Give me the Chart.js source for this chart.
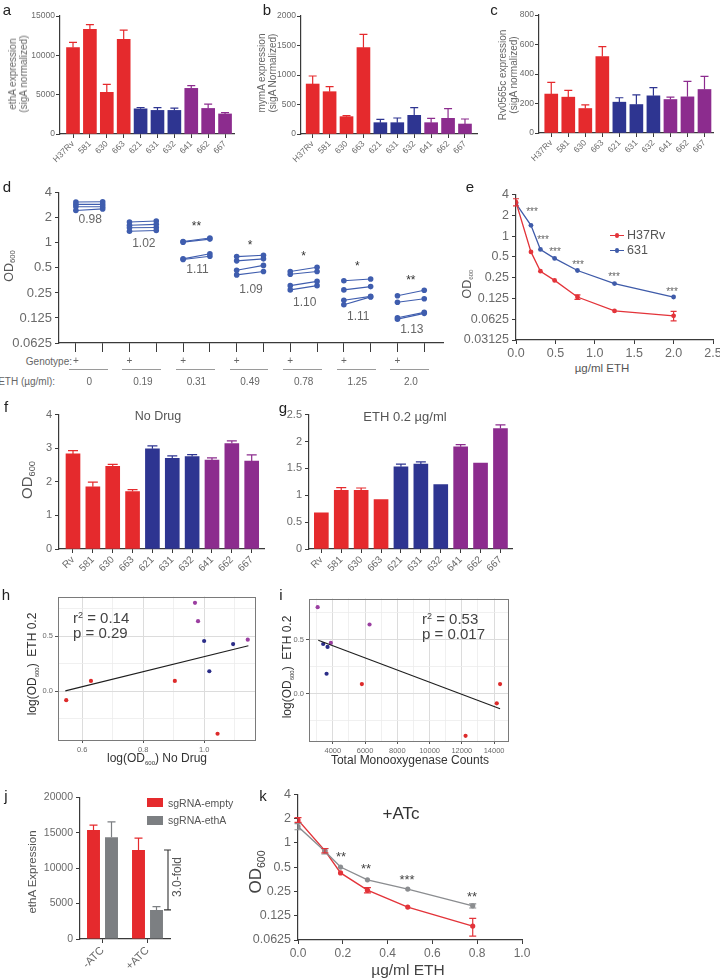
<!DOCTYPE html>
<html><head><meta charset="utf-8"><title>Figure</title>
<script src="https://cdn.jsdelivr.net/npm/chart.js"></script>
<style>
html,body{margin:0;padding:0;background:#fff;overflow:hidden;}
#root{position:relative;width:720px;height:980px;overflow:hidden;font-family:"Liberation Sans",Arial,Helvetica,sans-serif;}
#root canvas{position:absolute;}
.t{position:absolute;white-space:nowrap;color:#555;line-height:1;}
.sub{font-size:0.62em;vertical-align:-0.35em;}
.sup{font-size:0.6em;vertical-align:0.55em;}
.box{position:absolute;}
</style></head>
<body><div id="root"></div>
<script>
/* ================= DATA ================= */
const strains = ['H37Rv','581','630','663','621','631','632','641','662','667'];
const strainsShort = ['Rv','581','630','663','621','631','632','641','662','667'];
const strainGroup = ['red','red','red','red','blue','blue','blue','purple','purple','purple'];

// a: ethA expression (sigA normalized)
const ethA    = [11000,13300,5300,12050,3200,3000,3000,5800,3250,2550];
const ethAErr = [650,600,1000,1150,170,350,300,340,550,170];
// b: mymA expression
const mymA    = [847,717,294,1463,192,192,316,192,266,169];
const mymAErr = [136,85,17,226,57,79,130,74,163,85];
// c: Rv0565c expression
const rv0565c    = [264,243,166,518,209,193,252,227,245,295];
const rv0565cErr = [79,46,25,68,30,66,55,16,105,89];

// d: paired OD600 (genotype + : left / right of each pair)
const dConc  = ['0','0.19','0.31','0.49','0.78','1.25','2.0'];
const dLeft  = [[3.1,2.9,2.72,2.45],[1.78,1.63,1.52,1.38],[1.04,1.02,0.642,0.63],[0.684,0.608,0.468,0.412],[0.452,0.42,0.306,0.272],[0.35,0.272,0.204,0.18],[0.231,0.193,0.126,0.121]];
const dRight = [[3.12,2.9,2.72,2.56],[1.83,1.67,1.53,1.41],[1.145,1.11,0.74,0.69],[0.71,0.642,0.536,0.452],[0.508,0.452,0.344,0.306],[0.367,0.298,0.227,0.224],[0.269,0.213,0.146,0.142]];
const dRatio = ['0.98','1.02','1.11','1.09','1.10','1.11','1.13'];
const dStars = ['','','**','*','*','*','**'];
const dLogTicks = [4,2,1,0.5,0.25,0.125,0.0625];

// e: dose response
const eConc      = [0,0.19,0.31,0.49,0.78,1.25,2.0];
const eH37Rv     = [3.1,0.59,0.31,0.228,0.131,0.0825,0.070];
const eH37RvErr  = [0.37,0,0,0,0.0095,0,0.011];
const e631       = [2.95,1.43,0.64,0.475,0.317,0.205,0.131];
const eStars     = ['***','***','***','***','***','***'];
const eLogTicks  = [4,2,1,0.5,0.25,0.125,0.0625,0.03125];

// f / g: OD600 no drug and ETH 0.2 ug/ml
const noDrug    = [2.83,1.85,2.46,1.71,2.98,2.70,2.75,2.65,3.14,2.62];
const noDrugErr = [0.10,0.14,0.06,0.06,0.09,0.07,0.06,0.06,0.08,0.18];
const eth02     = [0.675,1.09,1.09,0.92,1.53,1.58,1.20,1.90,1.60,2.24];
const eth02Err  = [0,0.05,0.045,0,0.05,0.04,0,0.04,0,0.07];

// h: log(OD600) No Drug vs log(OD600) ETH 0.2
const hGroup = ['red','red','red','red','blue','blue','blue','purple','purple','purple'];
const hNoDrug = [1.044,0.629,0.904,0.548,1.095,1.0,1.017,0.98,1.143,0.97];
const hEth    = [-0.388,0.094,0.094,-0.082,0.43,0.458,0.182,0.639,0.47,0.806];
const hFitX = [0.545,1.145];
const hFitY = [0.003,0.415];
const hStats = ['0.14','0.29'];

// i: total monooxygenase counts vs log(OD600) ETH 0.2
const iCounts = [12230,14370,5800,14165,3674,3403,3612,6277,3877,3059];
const iEth    = [-0.388,0.09,0.09,-0.088,0.433,0.46,0.185,0.64,0.47,0.80];
const iFitX = [3098,14370];
const iFitY = [0.494,-0.139];
const iStats = ['0.53','0.017'];

// j: ethA expression, CRISPRi
const jConditions = ['-ATC','+ATC'];
const jSeries = ['sgRNA-empty','sgRNA-ethA'];
const jEmpty    = [15370,12570];
const jEmptyErr = [700,1680];
const jEthA     = [14350,4110];
const jEthAErr  = [2190,470];
const jFold = '3.0-fold';

// k: +ATc dose response
const kConc     = [0,0.12,0.19,0.31,0.49,0.78];
const kEmpty    = [1.93,0.805,0.425,0.26,0.16,0.093];
const kEmptyErr = [0.13,0.05,0,0.02,0,0.023];
const kEthA     = [1.6,0.79,0.503,0.349,0.268,0.166];
const kEthAErr  = [0.14,0.06,0,0,0,0.01];
const kStars    = ['','','**','**','***','**'];
const kLogTicks = [4,2,1,0.5,0.25,0.125,0.0625];

/* ================= STYLE ================= */
const COL = {red:'#E52A2D', blue:'#2E3591', purple:'#8C2C8E'};
const SCOL = {red:'#DD2B2B', blue:'#2B2D88', purple:'#9B3FA1'};
const C_D = '#3F5DAE', C_ERED = '#E3343A', C_EBLUE = '#3F5BA9', C_KGREY = '#8B8D90', C_JGREY = '#7C7F82';
const AX = '#3a3a3a', TC = '#6a6a6a';
Chart.defaults.font.family = '"Liberation Sans", Arial, Helvetica, sans-serif';
Chart.defaults.color = TC;

const root = document.getElementById('root');

const errPlugin = {
  id: 'errbars',
  afterDatasetsDraw(chart) {
    const ctx = chart.ctx;
    chart.data.datasets.forEach((ds, di) => {
      if (!ds.errUp) return;
      const meta = chart.getDatasetMeta(di);
      const ys = chart.scales[meta.yAxisID];
      meta.data.forEach((el, i) => {
        const e = ds.errUp[i];
        if (!e) return;
        const raw = ds.data[i];
        const v = (raw && typeof raw === 'object') ? raw.y : raw;
        const x = el.x;
        const top = ys.getPixelForValue(v + e);
        const bot = ds.errBoth ? ys.getPixelForValue(v - e) : el.y;
        const cw = ds.capW || 4;
        ctx.save();
        ctx.strokeStyle = Array.isArray(ds.errColor) ? ds.errColor[i] : (ds.errColor || ds.borderColor);
        ctx.lineWidth = 1.2;
        ctx.beginPath();
        ctx.moveTo(x, bot); ctx.lineTo(x, top);
        ctx.moveTo(x - cw, top); ctx.lineTo(x + cw, top);
        if (ds.errBoth) { ctx.moveTo(x - cw, bot); ctx.lineTo(x + cw, bot); }
        ctx.stroke();
        ctx.restore();
      });
    });
  }
};
Chart.register(errPlugin);

const framePlugin = {
  id: 'frame',
  afterDatasetsDraw(chart) {
    const a = chart.chartArea, ctx = chart.ctx;
    ctx.save(); ctx.strokeStyle = '#7a7a7a'; ctx.lineWidth = 1;
    ctx.strokeRect(Math.round(a.left) + 0.5, Math.round(a.top) + 0.5, Math.round(a.right - a.left) - 1, Math.round(a.bottom - a.top) - 1);
    ctx.restore();
  }
};

function base(scales) {
  return { responsive: false, animation: false, events: [],
    plugins: { legend: { display: false }, tooltip: { enabled: false } }, scales };
}

function mk(area, pad, config) {
  const c = document.createElement('canvas');
  const x0 = area.l - pad.l, y0 = area.t - pad.t;
  const w = area.r - area.l + pad.l + pad.r, h = area.b - area.t + pad.t + pad.b;
  c.width = w; c.height = h;
  c.style.left = x0 + 'px'; c.style.top = y0 + 'px';
  c.style.width = w + 'px'; c.style.height = h + 'px';
  root.appendChild(c);
  config.options.layout = { padding: { left: 0, top: pad.t, right: pad.r, bottom: 0 } };
  config.options.scales.x.afterFit = s => { s.height = pad.b; };
  config.options.scales.y.afterFit = s => { s.width = pad.l; };
  const ch = new Chart(c, config);
  ch.x0 = x0; ch.y0 = y0;
  return ch;
}

function txt(html, x, y, o = {}) {
  const d = document.createElement('div');
  d.className = 't';
  d.innerHTML = html;
  d.style.left = x + 'px'; d.style.top = y + 'px';
  d.style.fontSize = (o.size || 10) + 'px';
  if (o.color) d.style.color = o.color;
  if (o.lh) { d.style.lineHeight = o.lh + 'px'; d.style.textAlign = 'center'; }
  const tx = o.align === 'left' ? '0' : (o.align === 'right' ? '-100%' : '-50%');
  d.style.transform = 'translate(' + tx + ',-50%)' + (o.rot ? ' rotate(' + o.rot + 'deg)' : '');
  root.appendChild(d);
  return d;
}
function rect(x, y, w, h, color, radius) {
  const d = document.createElement('div');
  d.className = 'box';
  d.style.left = x + 'px'; d.style.top = y + 'px';
  d.style.width = w + 'px'; d.style.height = h + 'px';
  d.style.background = color;
  if (radius) d.style.borderRadius = radius;
  root.appendChild(d);
}

function yLin(min, max, step, font, tpad) {
  return { type: 'linear', min, max,
    ticks: { stepSize: step, font: { size: font }, color: TC, padding: (tpad === undefined ? 3 : tpad), callback: v => String(v) },
    grid: { drawOnChartArea: false, drawTicks: true, tickLength: 4, color: AX, lineWidth: 1 },
    border: { display: true, color: AX, width: 1.2 } };
}
function yLog(min, max, tickVals, font) {
  return { type: 'logarithmic', min, max,
    afterBuildTicks: s => { s.ticks = tickVals.map(v => ({ value: v })); },
    ticks: { autoSkip: false, font: { size: font }, color: TC, padding: 3, callback: v => String(v) },
    grid: { drawOnChartArea: false, drawTicks: true, tickLength: 4, color: AX, lineWidth: 1 },
    border: { display: true, color: AX, width: 1.2 } };
}
function xLin(min, max, step, font) {
  return { type: 'linear', min, max,
    ticks: { stepSize: step, font: { size: font }, color: TC, padding: 2, maxRotation: 0, callback: v => v.toFixed(1) },
    grid: { drawOnChartArea: false, drawTicks: true, tickLength: 4, color: AX, lineWidth: 1 },
    border: { display: true, color: AX, width: 1.2 } };
}

function barChart(area, pad, o) {
  const colors = strainGroup.map(g => COL[g]);
  return mk(area, pad, {
    type: 'bar',
    data: { datasets: [{
      data: o.values.map((v, i) => ({ x: i, y: v })),
      backgroundColor: colors, borderWidth: 0, barThickness: o.thick,
      errUp: o.errs, errColor: colors, capW: o.cap || 4 }] },
    options: base({
      x: { type: 'linear', min: o.xMin, max: o.xMax, offset: false,
        afterBuildTicks: s => { s.ticks = o.labels.map((_, i) => ({ value: i })); },
        ticks: { autoSkip: false, minRotation: 45, maxRotation: 45, padding: 1, font: { size: o.xFont }, color: TC, callback: v => o.labels[v] },
        grid: { drawOnChartArea: false, offset: false, drawTicks: true, tickLength: 4, color: AX },
        border: { display: true, color: AX, width: 1.2 } },
      y: yLin(0, o.yMax, o.yStep, o.yFont, o.tpad)
    })
  });
}

/* ================= PANELS a, b, c ================= */
barChart({ l: 60, t: 16, r: 234, b: 134 }, { l: 45, t: 8, r: 10, b: 40 },
  { values: ethA, errs: ethAErr, labels: strains, yMax: 15000, yStep: 5000, xMin: -0.77, xMax: 9.53, thick: 13, xFont: 8.5, yFont: 8.5, tpad: 1 });
barChart({ l: 301, t: 16, r: 477, b: 134 }, { l: 45, t: 8, r: 10, b: 40 },
  { values: mymA, errs: mymAErr, labels: strains, yMax: 2000, yStep: 500, xMin: -0.69, xMax: 9.71, thick: 13, xFont: 8.5, yFont: 8.5, tpad: 1 });
barChart({ l: 539, t: 15, r: 713, b: 133 }, { l: 45, t: 8, r: 6, b: 40 },
  { values: rv0565c, errs: rv0565cErr, labels: strains, yMax: 800, yStep: 200, xMin: -0.72, xMax: 9.5, thick: 13, xFont: 8.5, yFont: 8.5, tpad: 1 });

txt('ethA expression<br>(sigA normalized)', 18, 74, { size: 10, lh: 11, rot: -90, color: '#666' });
txt('mymA expression<br>(sigA Normalized)', 266.5, 73, { size: 10, lh: 10.5, rot: -90, color: '#666' });
txt('Rv0565c expression<br>(sigA normalized)', 507.5, 75, { size: 10, lh: 11, rot: -90, color: '#666' });

/* ================= PANEL d ================= */
const dDatasets = [];
dLeft.forEach((grp, g) => grp.forEach((v, k) => {
  dDatasets.push({ data: [{ x: 2 * g + 1, y: v }, { x: 2 * g + 2, y: dRight[g][k] }],
    borderColor: C_D, backgroundColor: C_D, borderWidth: 1.1, pointRadius: 2.8, pointBorderWidth: 0 });
}));
const dChart = mk({ l: 59, t: 190, r: 443, b: 343 }, { l: 55, t: 8, r: 10, b: 12 }, {
  type: 'line', data: { datasets: dDatasets },
  options: base({
    x: { type: 'linear', min: 0.37, max: 14.7,
      afterBuildTicks: s => { s.ticks = Array.from({ length: 14 }, (_, i) => ({ value: i + 1 })); },
      ticks: { autoSkip: false, callback: () => '' },
      grid: { drawOnChartArea: false, drawTicks: true, tickLength: 9, color: AX },
      border: { display: true, color: AX, width: 1.2 } },
    y: yLog(0.0625, 4, dLogTicks, 13)
  })
});
{
  const sx = v => dChart.x0 + dChart.scales.x.getPixelForValue(v);
  const ratioY = [219, 243, 269, 289, 302, 316, 329];
  const starY = [0, 0, 223, 242, 253, 263, 277];
  txt('Genotype:', 72, 362, { size: 10, align: 'right', color: '#666' });
  txt('ETH (µg/ml):', 55, 382, { size: 10, align: 'right', color: '#666' });
  dConc.forEach((c, g) => {
    const xl = sx(2 * g + 1), xr = sx(2 * g + 2), xc = (xl + xr) / 2;
    txt(dRatio[g], xc + 1, ratioY[g], { size: 12, color: '#666' });
    if (dStars[g]) txt(dStars[g], xc, starY[g] + 3, { size: 12, color: '#333' });
    txt('+', xl, 361, { size: 10, color: '#666' });
    rect(xl - 7, 368.5, xr - xl + 12, 1, '#9a9a9a');
    txt(c, xc, 382, { size: 10, color: '#666' });
  });
}
txt('OD<span class="sub">600</span>', 10, 266, { size: 12.5, rot: -90, color: '#555' });

/* ================= PANEL e ================= */
const eChart = mk({ l: 516, t: 192, r: 713, b: 340 }, { l: 58, t: 8, r: 14, b: 22 }, {
  type: 'line',
  data: { datasets: [
    { data: eConc.map((x, i) => ({ x, y: eH37Rv[i] })), borderColor: C_ERED, backgroundColor: C_ERED, borderWidth: 1.3, pointRadius: 2.4, pointBorderWidth: 0, errUp: eH37RvErr, errBoth: true, capW: 3 },
    { data: eConc.map((x, i) => ({ x, y: e631[i] })), borderColor: C_EBLUE, backgroundColor: C_EBLUE, borderWidth: 1.3, pointRadius: 2.4, pointBorderWidth: 0 }
  ] },
  options: base({ x: xLin(0, 2.5, 0.5, 12.5), y: yLog(0.03125, 4, eLogTicks, 12.5) })
});
{
  const starPos = [[532, 209], [543, 237], [555, 249], [578, 262], [614, 274], [672, 289]];
  starPos.forEach((p, i) => txt(eStars[i], p[0], p[1] + 2.5, { size: 10, color: '#666' }));
  // legend
  rect(610, 234.5, 14, 1.3, C_ERED); rect(614.5, 233, 4.5, 4.5, C_ERED, '50%');
  txt('H37Rv', 627, 235, { size: 12.5, align: 'left', color: '#555' });
  rect(610, 249.5, 14, 1.3, C_EBLUE); rect(614.5, 248, 4.5, 4.5, C_EBLUE, '50%');
  txt('631', 627, 250, { size: 12.5, align: 'left', color: '#555' });
}
txt('OD<span class="sub" style="font-size:0.5em">600</span>', 468, 284, { size: 12.5, rot: -90, color: '#555' });
txt('µg/ml ETH', 602, 369, { size: 11.5, color: '#555' });

/* ================= PANELS f, g ================= */
barChart({ l: 59, t: 413, r: 264, b: 549 }, { l: 40, t: 8, r: 10, b: 40 },
  { values: noDrug, errs: noDrugErr, labels: strainsShort, yMax: 4, yStep: 1, xMin: -0.705, xMax: 9.62, thick: 14, xFont: 10, yFont: 11, cap: 5 });
barChart({ l: 309, t: 413, r: 512, b: 549 }, { l: 40, t: 8, r: 10, b: 40 },
  { values: eth02, errs: eth02Err, labels: strainsShort, yMax: 2.5, yStep: 0.5, xMin: -0.62, xMax: 9.58, thick: 14, xFont: 10, yFont: 11, cap: 5 });
txt('No Drug', 158, 416, { size: 12.5, color: '#555' });
txt('ETH 0.2 µg/ml', 405, 416, { size: 13, color: '#555' });
txt('OD<span class="sub">600</span>', 28, 480, { size: 15, rot: -90, color: '#555' });

/* ================= PANELS h, i ================= */
function ggAxis(min, max, majors, minors, fmt) {
  const isMaj = ctx => ctx.tick && majors.includes(ctx.tick.value);
  return { type: 'linear', min, max,
    afterBuildTicks: s => { s.ticks = majors.concat(minors).filter(v => v >= min && v <= max).sort((a, b) => a - b).map(v => ({ value: v })); },
    ticks: { autoSkip: false, maxRotation: 0, font: { size: 7.5 }, color: '#6a6a6a', padding: 2, callback: v => majors.includes(v) ? fmt(v) : '' },
    grid: { drawOnChartArea: true, drawTicks: true, tickLength: 3,
      color: ctx => isMaj(ctx) ? '#DCDCDC' : '#ECECEC',
      lineWidth: ctx => isMaj(ctx) ? 1 : 0.8,
      tickColor: ctx => isMaj(ctx) ? '#555' : 'rgba(0,0,0,0)' },
    border: { display: false } };
}
function scatterSets(xs, ys, fitX, fitY) {
  const sets = ['red', 'blue', 'purple'].map(g => ({
    type: 'scatter',
    data: xs.map((x, i) => ({ x, y: ys[i], g: hGroup[i] })).filter(p => p.g === g),
    backgroundColor: SCOL[g], borderWidth: 0, pointRadius: 2.1 }));
  sets.unshift({ type: 'line', data: fitX.map((x, i) => ({ x, y: fitY[i] })), borderColor: '#1e1e1e', borderWidth: 1.1, pointRadius: 0 });
  return sets;
}
const hChart = mk({ l: 58, t: 596, r: 256, b: 740 }, { l: 30, t: 6, r: 6, b: 14 }, {
  type: 'scatter', data: { datasets: scatterSets(hNoDrug, hEth, hFitX, hFitY) },
  options: base({ x: ggAxis(0.521, 1.17, [0.6, 0.8, 1.0], [0.7, 0.9, 1.1], v => v.toFixed(1)),
                  y: ggAxis(-0.445, 0.864, [0.0, 0.5], [-0.25, 0.25, 0.75], v => v.toFixed(1)) }),
  plugins: [framePlugin]
});
const iChart = mk({ l: 309, t: 598, r: 509, b: 741 }, { l: 30, t: 6, r: 10, b: 14 }, {
  type: 'scatter', data: { datasets: scatterSets(iCounts, iEth, iFitX, iFitY) },
  options: base({ x: ggAxis(2523, 14923, [4000, 6000, 8000, 10000, 12000, 14000], [3000, 5000, 7000, 9000, 11000, 13000], v => String(v)),
                  y: ggAxis(-0.436, 0.88, [0.0, 0.5], [-0.25, 0.25, 0.75], v => v.toFixed(1)) }),
  plugins: [framePlugin]
});
txt('r<span class="sup">2</span> = ' + hStats[0], 73, 617, { size: 15, align: 'left', color: '#444' });
txt('p = ' + hStats[1], 73, 632, { size: 15, align: 'left', color: '#444' });
txt('r<span class="sup">2</span> = ' + iStats[0], 422, 618, { size: 15, align: 'left', color: '#444' });
txt('p = ' + iStats[1], 422, 633, { size: 15, align: 'left', color: '#444' });
txt('log(OD<span class="sub" style="font-size:0.5em">600</span>) No Drug', 157, 759, { size: 12, color: '#333' });
txt('Total Monooxygenase Counts', 410, 760, { size: 12, color: '#333' });
txt('log(OD<span class="sub" style="font-size:0.5em">600</span>)&nbsp; ETH 0.2', 33, 664, { size: 12, rot: -90, color: '#333' });
txt('log(OD<span class="sub" style="font-size:0.5em">600</span>)&nbsp; ETH 0.2', 288, 667, { size: 12, rot: -90, color: '#333' });

/* ================= PANEL j ================= */
const jChart = mk({ l: 80, t: 796, r: 170, b: 939 }, { l: 45, t: 8, r: 8, b: 35 }, {
  type: 'bar',
  data: { labels: jConditions, datasets: [
    { label: jSeries[0], data: jEmpty, backgroundColor: COL.red, categoryPercentage: 0.8, barPercentage: 0.72, errUp: jEmptyErr, errColor: COL.red, capW: 4 },
    { label: jSeries[1], data: jEthA, backgroundColor: C_JGREY, categoryPercentage: 0.8, barPercentage: 0.72, errUp: jEthAErr, errColor: C_JGREY, capW: 4 }
  ] },
  options: base({
    x: { type: 'category', offset: true,
      ticks: { autoSkip: false, minRotation: 45, maxRotation: 45, padding: 1, font: { size: 11 }, color: TC },
      grid: { drawOnChartArea: false, offset: false, drawTicks: true, tickLength: 4, color: AX },
      border: { display: true, color: AX, width: 1.2 } },
    y: yLin(0, 20000, 5000, 10.5)
  }),
  plugins: [{
    id: 'fold',
    afterDatasetsDraw(chart) {
      const ctx = chart.ctx, ys = chart.scales.y;
      const x = chart.chartArea.right - 2;
      const t = ys.getPixelForValue(jEmpty[1]), b = ys.getPixelForValue(jEthA[1]);
      ctx.save(); ctx.strokeStyle = '#333'; ctx.lineWidth = 1.1;
      ctx.beginPath(); ctx.moveTo(x, t); ctx.lineTo(x, b);
      ctx.moveTo(x - 4, t); ctx.lineTo(x + 3, t); ctx.moveTo(x - 4, b); ctx.lineTo(x + 3, b);
      ctx.stroke(); ctx.restore();
    }
  }]
});
rect(147, 798, 16, 9, COL.red);
txt(jSeries[0], 168, 803, { size: 10.5, align: 'left', color: '#555' });
rect(147, 816, 16, 9, C_JGREY);
txt(jSeries[1], 168, 820, { size: 10.5, align: 'left', color: '#555' });
txt(jFold, 177, 877, { size: 12, rot: -90, color: '#555' });
txt('ethA Expression', 33, 872, { size: 11.5, rot: -90, color: '#555' });

/* ================= PANEL k ================= */
const kChart = mk({ l: 298, t: 792, r: 522, b: 940 }, { l: 50, t: 8, r: 14, b: 22 }, {
  type: 'line',
  data: { datasets: [
    { data: kConc.map((x, i) => ({ x, y: kEthA[i] })), borderColor: C_KGREY, backgroundColor: C_KGREY, borderWidth: 1.4, pointRadius: 2.6, pointBorderWidth: 0, errUp: kEthAErr, errBoth: true, capW: 3.5 },
    { data: kConc.map((x, i) => ({ x, y: kEmpty[i] })), borderColor: C_ERED, backgroundColor: C_ERED, borderWidth: 1.4, pointRadius: 2.6, pointBorderWidth: 0, errUp: kEmptyErr, errBoth: true, capW: 3.5 }
  ] },
  options: base({ x: xLin(0, 1.0, 0.2, 12), y: yLog(0.0625, 4, kLogTicks, 12.5) })
});
{
  const starPos = [null, null, [341, 853], [366, 865], [407, 876], [472, 893]];
  starPos.forEach((p, i) => { if (p) txt(kStars[i], p[0], p[1] + 3, { size: 13, color: '#444' }); });
}
txt('+ATc', 401, 813, { size: 17, color: '#333' });
txt('µg/ml ETH', 408, 970, { size: 15.5, color: '#444' });
txt('OD<span class="sub">600</span>', 257, 872, { size: 17, rot: -90, color: '#444' });

/* ================= PANEL LETTERS ================= */
[['a', 7, 9], ['b', 267, 9], ['c', 494, 9], ['d', 7, 186], ['e', 470, 186], ['f', 6, 406], ['g', 283, 407],
 ['h', 6, 594], ['i', 281, 594], ['j', 6, 795], ['k', 263, 795]].forEach(p => txt(p[0], p[1], p[2], { size: 15, color: '#222' }));
</script>
</body></html>
